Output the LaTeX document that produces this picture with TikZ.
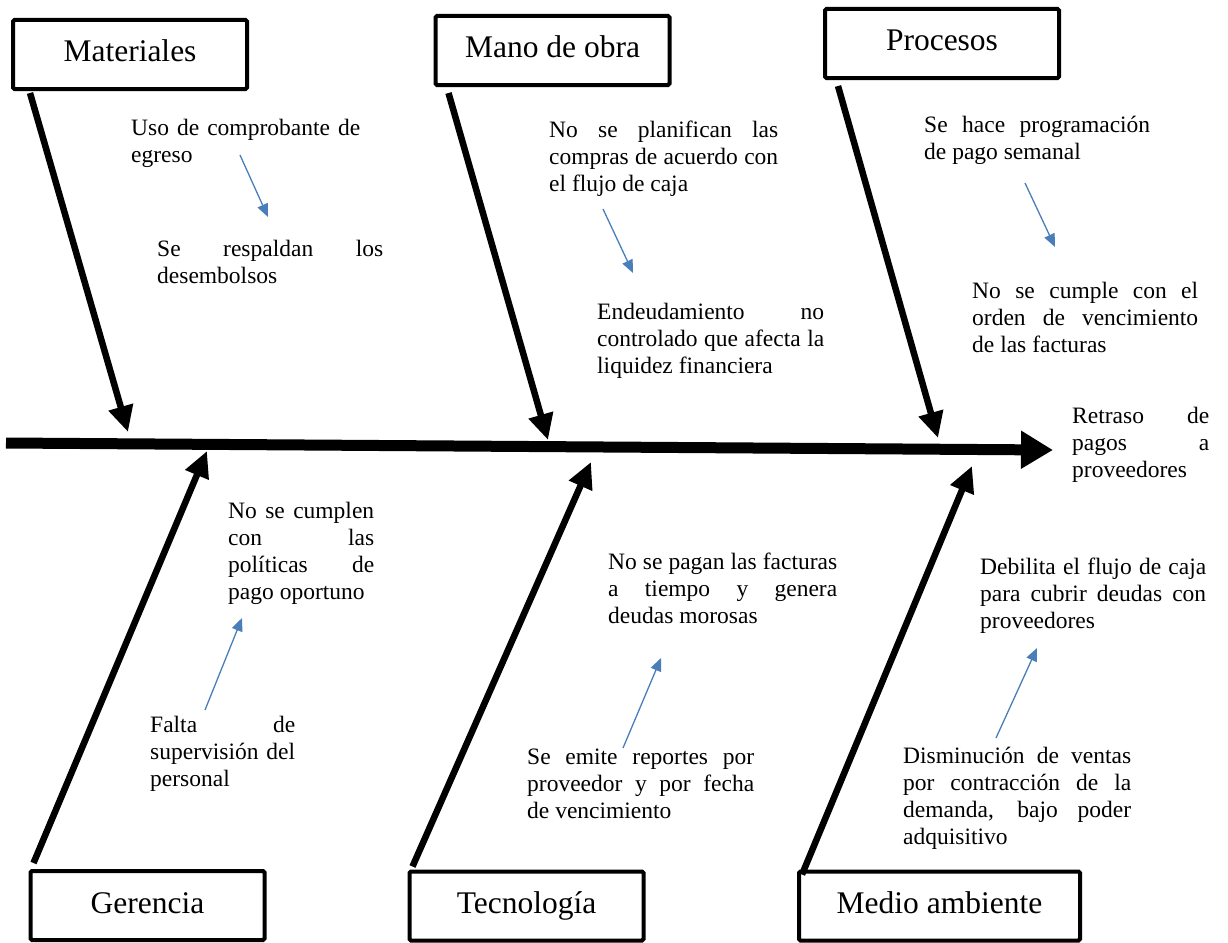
\documentclass[tikz,border=0pt]{standalone}
\usepackage{fontspec}
\setmainfont{Liberation Serif}
\usetikzlibrary{arrows.meta, calc}
\definecolor{fishBlue}{HTML}{4A7EBB}
\tolerance=10000
\hyphenpenalty=10000
\tikzset{
  arrowK/.style={-{Triangle[length=26pt, width=24pt]}, line width=6.5pt},
  arrowSpine/.style={-{Triangle[length=32pt, width=36pt]}, line width=11pt},
  arrowB/.style={-{Triangle[length=13pt, width=11pt]}, fishBlue, line width=1.3pt},
  boxCat/.style={rectangle, draw, line width=4pt, rounded corners=1.5pt,
                 minimum width=234pt, minimum height=69pt, inner sep=0pt,
                 font=\fontsize{31.5}{36}\selectfont, text height=22pt, text depth=7pt},
  txtCause/.style={anchor=base west, inner sep=0pt, align=justify,
                   font=\fontsize{23.5}{27.3}\selectfont},
}
\begin{document}
\begin{tikzpicture}[x=1pt, y=-1pt]
  \useasboundingbox (0,0) rectangle (1228,942);
  % categorias
  \node[boxCat] (mat) at (130,54.5) {Materiales};
  \node[boxCat] (mano) at (552.5,50.5) {Mano de obra};
  \node[boxCat] (proc) at (942,43.5) {Procesos};
  \node[boxCat] (ger) at (147.5,905.5) {Gerencia};
  \node[boxCat] (tec) at (526.5,906) {Tecnología};
  \node[boxCat, minimum width=281pt] (medio) at (939.5,906) {Medio ambiente};
  % efecto y espina
  \node[txtCause, text width=137pt] (efecto) at (1072,423) {Retraso de\linebreak pagos a\linebreak proveedores};
  \coordinate (tail) at (6,443);
  \coordinate (head) at (1053,450);
  \draw[arrowSpine] (tail) -- (head);
  % puntos sobre la espina
  \coordinate (pMat) at (128,432);
  \coordinate (pMano) at (548,440);
  \coordinate (pProc) at (938,438);
  \coordinate (pGer) at (207,451);
  \coordinate (pTec) at (591,462);
  \coordinate (pMedio) at (972,466);
  \draw[arrowK] ($(mat.south west)+(19,2)$) -- (pMat);
  \draw[arrowK] ($(mano.south west)+(15,6)$) -- (pMano);
  \draw[arrowK] ($(proc.south west)+(15,6)$) -- (pProc);
  \draw[arrowK] ($(ger.north west)+(5,-6)$) -- (pGer);
  \draw[arrowK] ($(tec.north west)+(5,-3)$) -- (pTec);
  \draw[arrowK] ($(medio.north west)+(5,5)$) -- (pMedio);
  % causas
  \node[txtCause, text width=229pt] (mat1) at (131,135) {Uso de comprobante de\linebreak egreso};
  \node[txtCause, text width=226pt] (mat2) at (157,256) {Se respaldan los\linebreak desembolsos};
  \node[txtCause, text width=229pt] (mano1) at (549,137) {No se planifican las\linebreak compras de acuerdo con\linebreak el flujo de caja};
  \node[txtCause, text width=227pt] (mano2) at (597,319) {Endeudamiento no\linebreak controlado que afecta la\linebreak liquidez financiera};
  \node[txtCause, text width=226pt] (proc1) at (924,132) {Se hace programación\linebreak de pago semanal};
  \node[txtCause, text width=226pt] (proc2) at (972,298) {No se cumple con el\linebreak orden de vencimiento\linebreak de las facturas};
  \node[txtCause, text width=146pt] (ger1) at (228,518) {No se cumplen\linebreak con las\linebreak políticas de\linebreak pago oportuno};
  \node[txtCause, text width=145pt] (ger2) at (150,732) {Falta de\linebreak supervisión del\linebreak personal};
  \node[txtCause, text width=229pt] (tec1) at (608,569) {No se pagan las facturas\linebreak a tiempo y genera\linebreak deudas morosas};
  \node[txtCause, text width=227pt] (tec2) at (527,764) {Se emite reportes por\linebreak proveedor y por fecha\linebreak de vencimiento};
  \node[txtCause, text width=226pt] (medio1) at (980,574) {Debilita el flujo de caja\linebreak para cubrir deudas con\linebreak proveedores};
  \node[txtCause, text width=228pt] (medio2) at (903,763) {Disminución de ventas\linebreak por contracción de la\linebreak demanda, bajo poder\linebreak adquisitivo};
  % flechas azules
  \coordinate (u1) at (240,155);  \coordinate (v1) at (268,217);
  \coordinate (u2) at (603,209);  \coordinate (v2) at (633,273);
  \coordinate (u3) at (1025,183); \coordinate (v3) at (1055,247);
  \coordinate (u4) at (205,710);  \coordinate (v4) at (242,618);
  \coordinate (u5) at (623,748);  \coordinate (v5) at (661,658);
  \coordinate (u6) at (996,738);  \coordinate (v6) at (1037,648);
  \draw[arrowB] (u1) -- (v1);
  \draw[arrowB] (u2) -- (v2);
  \draw[arrowB] (u3) -- (v3);
  \draw[arrowB] (u4) -- (v4);
  \draw[arrowB] (u5) -- (v5);
  \draw[arrowB] (u6) -- (v6);
\end{tikzpicture}
\end{document}
